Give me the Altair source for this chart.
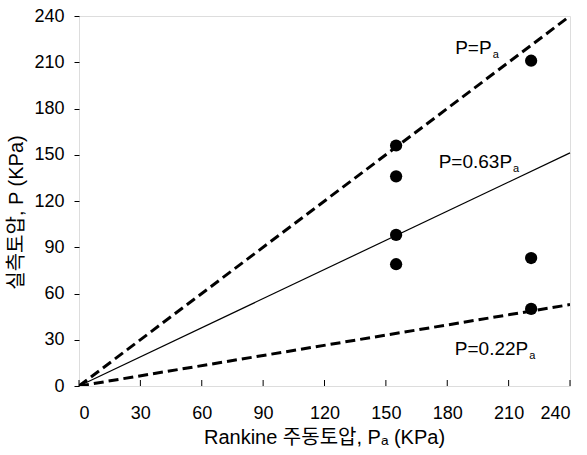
import altair as alt
import pandas as pd

# measured points
pt_x = [155, 155, 155, 155, 221, 221, 221]
pt_y = [156, 136, 98, 79, 211, 83, 50]

# reference lines (start and end values)
line_names = ["P=Pa", "P=0.63Pa", "P=0.22Pa"]
line_x0 = [0, 0, 0]
line_y0 = [0, 0, 0]
line_x1 = [240, 240, 240]
line_y1 = [240, 151.2, 52.8]
line_dashed = [True, False, True]

# annotation labels (main text ends at label_x, subscript follows)
label_main = ["P=P", "P=0.63P", "P=0.22P"]
label_sub = ["a", "a", "a"]
label_x = [201.7, 211.7, 219.6]
label_y = [215.4, 141.4, 20.1]

tick_vals = [0, 30, 60, 90, 120, 150, 180, 210, 240]

FONT = "Liberation Sans, Arial, Noto Sans CJK KR"
W, H = 491, 370

pts = pd.DataFrame({"x": pt_x, "y": pt_y})
rows = []
for n, x0, y0, x1, y1, d in zip(line_names, line_x0, line_y0, line_x1, line_y1, line_dashed):
    rows.append({"name": n, "x": x0, "y": y0, "dashed": d})
    rows.append({"name": n, "x": x1, "y": y1, "dashed": d})
lines = pd.DataFrame(rows)
labels = pd.DataFrame({"t": label_main, "s": label_sub, "x": label_x, "y": label_y})
ticks = pd.DataFrame({"v": tick_vals})

xs = alt.Scale(domain=[0, 240], nice=False)
ys = alt.Scale(domain=[0, 240], nice=False)

xaxis = alt.Axis(values=tick_vals, ticks=False, grid=False, domain=False,
                 labelFontSize=18, labelFont=FONT, labelColor="black", labelPadding=18,
                 title="Rankine 주동토압, Pₐ (KPa)", titleFont=FONT, titleFontSize=20,
                 titleFontWeight="normal", titleColor="black",
                 titleX=245, titleY=51, titleBaseline="middle", titleAlign="center")
yaxis = alt.Axis(values=tick_vals, ticks=True, tickSize=5, tickColor="black", grid=False,
                 domain=False, labelFontSize=18, labelFont=FONT, labelColor="black",
                 labelPadding=10, title="실측토압, P (KPa)", titleFont=FONT, titleFontSize=20,
                 titleFontWeight="normal", titleColor="black", titleAngle=270,
                 titleX=-63, titleY=196, titleBaseline="middle", titleAlign="center")

dashed = alt.Chart(lines[lines.dashed]).mark_line(color="black", strokeWidth=3, strokeDash=[10, 5], clip=True).encode(
    x=alt.X("x:Q", scale=xs, axis=xaxis),
    y=alt.Y("y:Q", scale=ys, axis=yaxis),
    detail="name:N",
)
solid = alt.Chart(lines[~lines.dashed]).mark_line(color="black", strokeWidth=1.2).encode(
    x=alt.X("x:Q", scale=xs), y=alt.Y("y:Q", scale=ys), detail="name:N"
)
points = alt.Chart(pts).mark_circle(color="black", opacity=1, size=150).encode(
    x=alt.X("x:Q", scale=xs), y=alt.Y("y:Q", scale=ys)
)
text_main = alt.Chart(labels).mark_text(align="right", baseline="alphabetic", fontSize=19, font=FONT, color="black").encode(
    x=alt.X("x:Q", scale=xs), y=alt.Y("y:Q", scale=ys), text="t:N"
)
text_sub = alt.Chart(labels).mark_text(align="left", baseline="alphabetic", fontSize=11, font=FONT, color="black", dx=1, dy=4).encode(
    x=alt.X("x:Q", scale=xs), y=alt.Y("y:Q", scale=ys), text="s:N"
)
xticks = alt.Chart(ticks).mark_rule(color="black", strokeWidth=1).encode(
    x=alt.X("v:Q", scale=xs), y=alt.value(H), y2=alt.value(H - 6)
)

chart = alt.layer(dashed, solid, points, text_main, text_sub, xticks).properties(
    width=W, height=H,
    autosize=alt.AutoSizeParams(type="none"),
    padding={"left": 79, "top": 16, "right": 17, "bottom": 69},
).configure_view(stroke="black", strokeWidth=1.5).configure(background="white")

chart.save("out.html", embed_options={"renderer": "svg", "actions": False})
